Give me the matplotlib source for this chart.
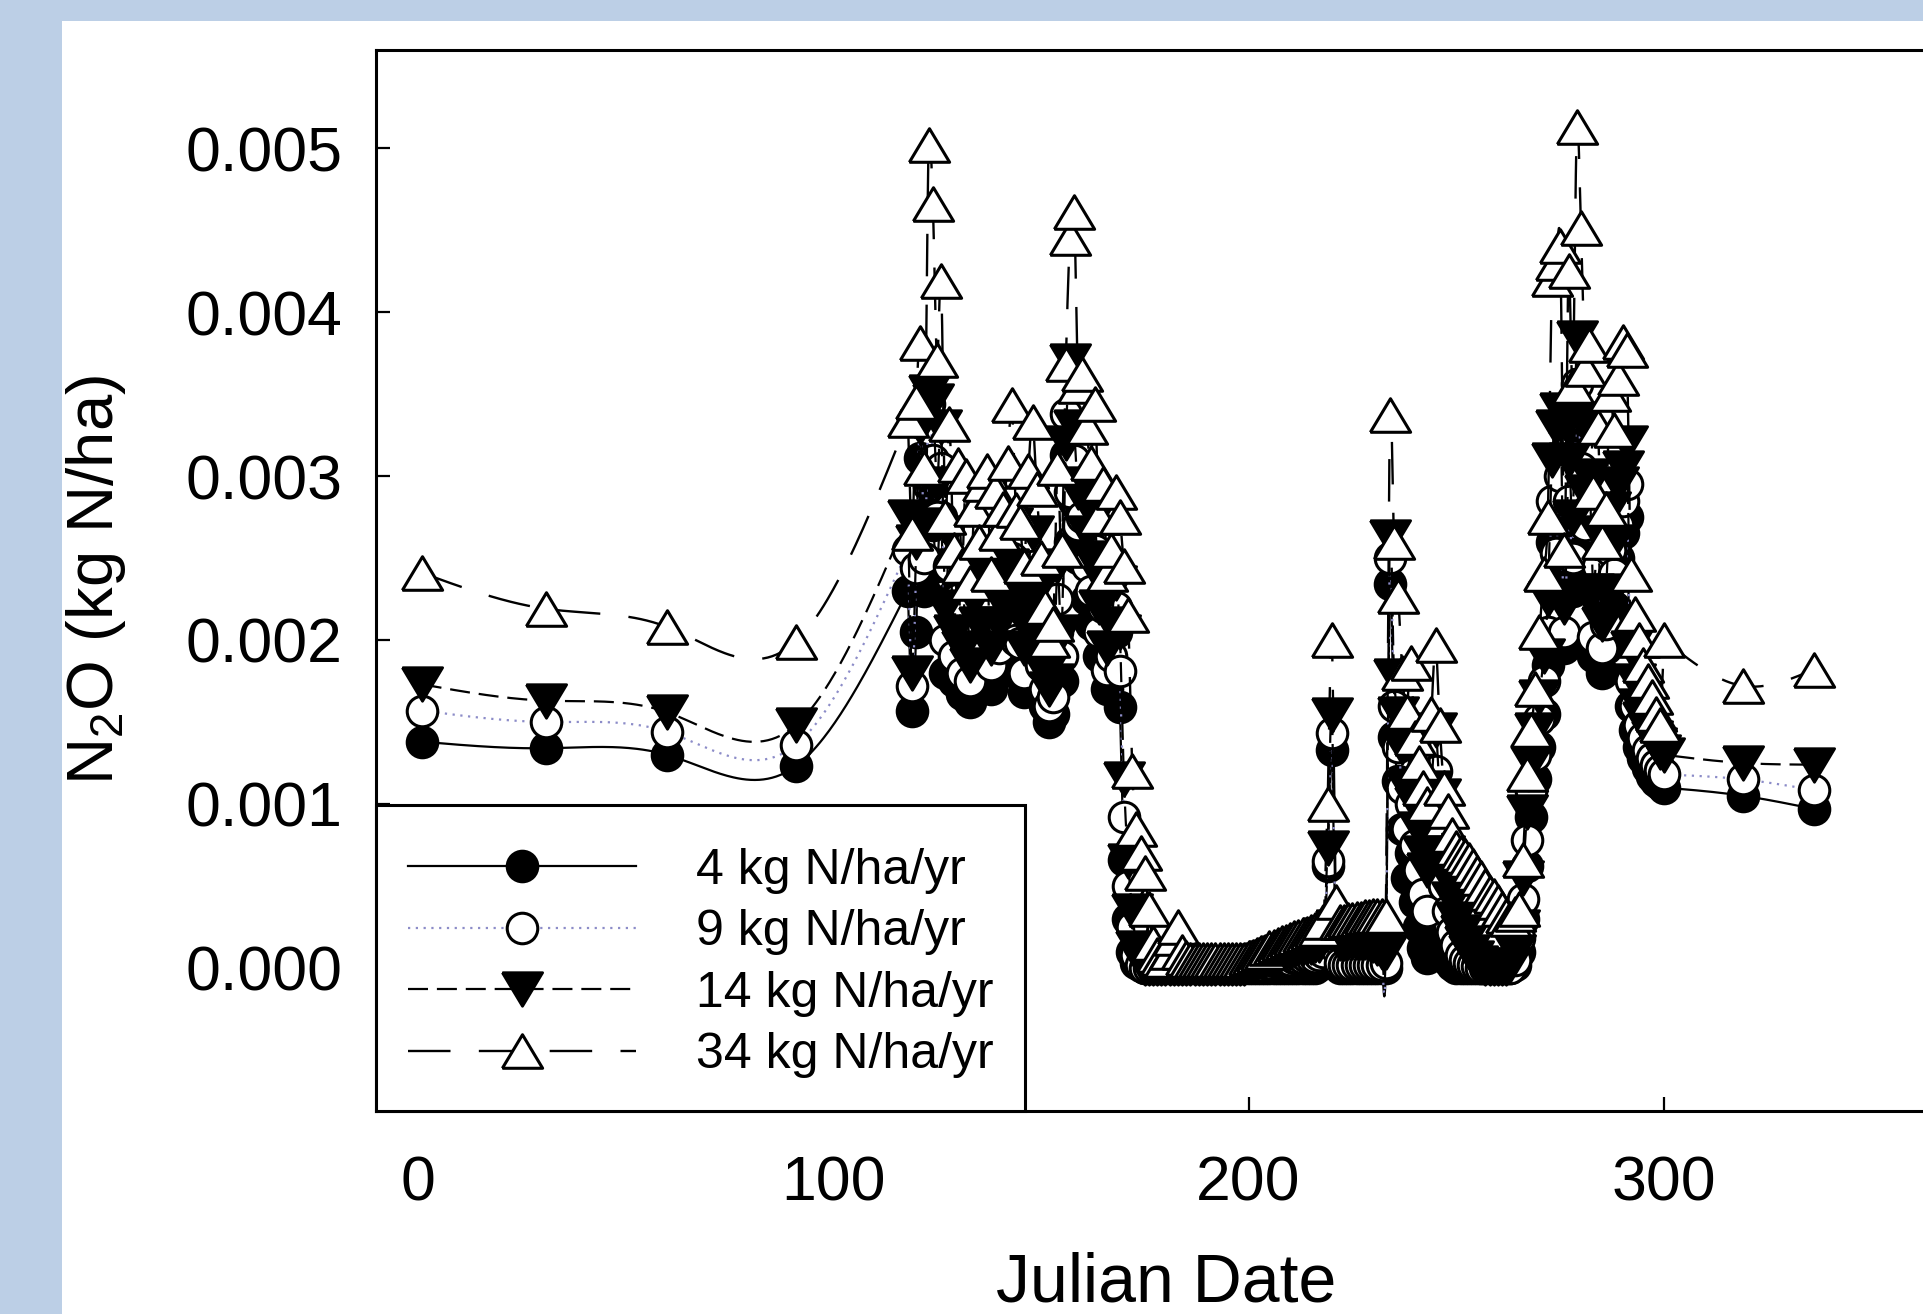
import numpy as np
import matplotlib
matplotlib.use("Agg")
import matplotlib.pyplot as plt
from matplotlib.lines import Line2D
from matplotlib.patches import Rectangle
from matplotlib.ticker import FuncFormatter

plt.rcParams['font.family'] = ['Liberation Sans', 'DejaVu Sans']
plt.rcParams['mathtext.default'] = 'regular'

# ---------------- data (N2O, units of 0.001 kg N/ha) ----------------
days = [1, 31, 60, 91] + list(range(118, 301)) + [319, 336]

n4 = [1.38, 1.34, 1.30, 1.23,
      2.30, 1.57, 2.05, 3.11, 2.30, 2.94, 2.70, 2.45, 2.75, 1.80,
      2.25, 1.75, 2.05, 1.67, 2.00, 1.62, 1.90, 1.80, 1.95, 2.05,
      1.70, 1.95, 1.80, 1.90, 2.05, 2.30, 1.85, 1.82, 1.68, 2.00,
      2.25, 1.95, 1.72, 1.60, 1.50, 1.55, 2.05, 1.75, 3.13, 2.60,
      2.85, 2.50, 2.55, 2.25, 2.10, 2.35, 1.90, 2.05, 1.70, 1.80,
      2.05, 1.59, 0.66, 0.30, 0.10, 0.03, 0.01, 0.00, 0.00, 0.00,
      0.00, 0.00, 0.00, 0.00, 0.00, 0.00, 0.00, 0.00, 0.00, 0.00,
      0.00, 0.00, 0.00, 0.00, 0.00, 0.00, 0.00, 0.00, 0.00, 0.00,
      0.00, 0.00, 0.00, 0.00, 0.00, 0.00, 0.00, 0.00, 0.00, 0.00,
      0.00, 0.00, 0.00, 0.00, 0.00, 0.00, 0.00, 0.00, 0.00, 0.02,
      0.05, 0.62, 1.33, 0.05, 0.00, 0.00, 0.00, 0.00, 0.00, 0.00,
      0.00, 0.00, 0.00, 0.00, 0.00, 0.00, 2.34, 1.41, 1.14, 0.85,
      0.55, 0.70, 0.40, 0.25, 0.12, 0.06, 0.45, 0.80, 0.40, 0.15,
      0.05, 0.02, 0.00, 0.00, 0.00, 0.00, 0.00, 0.00, 0.00, 0.00,
      0.00, 0.00, 0.00, 0.00, 0.00, 0.00, 0.02, 0.10, 0.30, 0.62,
      0.92, 1.15, 1.35, 1.55, 1.85, 2.60, 2.35, 2.80, 1.95, 2.65,
      2.30, 3.28, 2.80, 2.45, 2.55, 1.90, 2.25, 1.80, 1.95, 2.35,
      2.20, 2.50, 2.65, 2.75, 1.60, 1.45, 1.35, 1.28, 1.22, 1.17,
      1.14, 1.12, 1.10,
      1.05, 0.97]

n9 = [1.57, 1.50, 1.44, 1.36,
      2.55, 1.72, 2.44, 3.40, 2.50, 3.44, 3.10, 2.75, 3.05, 2.00,
      2.45, 1.90, 2.25, 1.80, 2.20, 1.75, 2.05, 1.95, 2.15, 2.25,
      1.85, 2.10, 1.95, 2.05, 2.25, 2.50, 2.00, 1.98, 1.80, 2.20,
      2.45, 2.10, 1.85, 1.70, 1.60, 1.65, 2.25, 1.90, 3.38, 2.90,
      3.10, 2.70, 2.75, 2.45, 2.30, 2.55, 2.05, 2.20, 1.82, 1.90,
      2.20, 1.81, 0.92, 0.50, 0.25, 0.08, 0.02, 0.00, 0.00, 0.00,
      0.00, 0.00, 0.00, 0.00, 0.00, 0.00, 0.00, 0.00, 0.00, 0.00,
      0.00, 0.00, 0.00, 0.00, 0.00, 0.00, 0.00, 0.00, 0.00, 0.00,
      0.00, 0.00, 0.01, 0.01, 0.02, 0.02, 0.03, 0.03, 0.04, 0.04,
      0.05, 0.05, 0.05, 0.06, 0.06, 0.06, 0.07, 0.07, 0.07, 0.08,
      0.10, 0.65, 1.43, 0.12, 0.03, 0.02, 0.02, 0.02, 0.02, 0.02,
      0.02, 0.02, 0.02, 0.02, 0.02, 0.03, 2.50, 1.60, 1.35, 1.10,
      0.85, 1.00, 0.75, 0.60, 0.45, 0.35, 0.90, 1.20, 0.80, 0.50,
      0.35, 0.22, 0.14, 0.08, 0.05, 0.03, 0.02, 0.01, 0.00, 0.00,
      0.00, 0.00, 0.00, 0.00, 0.00, 0.00, 0.05, 0.18, 0.42, 0.78,
      1.08, 1.30, 1.52, 1.75, 2.05, 2.85, 2.53, 3.00, 2.05, 2.85,
      2.50, 3.56, 3.05, 2.70, 2.80, 2.02, 2.45, 1.95, 2.10, 2.55,
      2.40, 2.70, 2.85, 2.95, 1.75, 1.60, 1.48, 1.40, 1.33, 1.28,
      1.24, 1.21, 1.18,
      1.15, 1.085]

n14 = [1.73, 1.63, 1.56, 1.48,
       2.75, 1.80, 2.60, 3.30, 2.70, 3.51, 3.46, 2.95, 3.30, 2.20,
       2.65, 2.05, 2.45, 1.95, 2.40, 1.85, 2.25, 2.10, 2.35, 2.45,
       1.95, 2.30, 2.10, 2.25, 2.45, 2.70, 2.20, 2.15, 1.95, 2.40,
       2.65, 2.30, 2.00, 1.80, 1.70, 1.75, 2.45, 2.05, 3.20, 3.70,
       3.30, 2.90, 2.95, 2.65, 2.50, 2.75, 2.20, 2.35, 1.95, 2.10,
       2.35, 2.05, 1.15, 0.65, 0.35, 0.12, 0.04, 0.00, 0.00, 0.00,
       0.00, 0.00, 0.00, 0.00, 0.00, 0.00, 0.00, 0.00, 0.00, 0.00,
       0.00, 0.00, 0.00, 0.00, 0.00, 0.00, 0.00, 0.00, 0.00, 0.00,
       0.00, 0.00, 0.01, 0.02, 0.03, 0.04, 0.05, 0.06, 0.07, 0.08,
       0.09, 0.10, 0.10, 0.11, 0.12, 0.12, 0.13, 0.13, 0.14, 0.14,
       0.20, 0.73, 1.54, 0.25, 0.15, 0.15, 0.16, 0.16, 0.16, 0.16,
       0.16, 0.15, 0.14, 0.12, 0.10, 0.10, 2.63, 1.78, 1.55, 1.35,
       1.10, 1.35, 1.00, 0.85, 0.70, 0.60, 1.10, 1.45, 1.05, 0.70,
       0.55, 0.42, 0.30, 0.22, 0.15, 0.10, 0.06, 0.03, 0.02, 0.00,
       0.00, 0.00, 0.00, 0.00, 0.00, 0.02, 0.10, 0.25, 0.55, 0.95,
       1.25, 1.45, 1.65, 1.90, 2.25, 3.10, 3.30, 3.40, 2.20, 3.10,
       2.75, 3.84, 3.35, 2.90, 3.00, 2.30, 2.65, 2.10, 2.30, 2.80,
       2.60, 2.95, 3.05, 3.20, 1.95, 1.75, 1.60, 1.52, 1.45, 1.40,
       1.36, 1.32, 1.30,
       1.25, 1.24]

n34 = [2.41, 2.19, 2.08, 1.99,
       3.34, 2.65, 3.45, 3.81, 3.05, 5.02, 4.66, 3.71, 4.19, 2.75,
       3.32, 2.55, 3.07, 2.45, 3.00, 2.35, 2.80, 2.60, 2.95, 3.03,
       2.40, 2.91, 2.65, 2.80, 3.08, 3.43, 2.79, 2.72, 2.45, 3.03,
       3.33, 2.92, 2.50, 2.20, 2.00, 2.10, 3.05, 2.55, 3.68, 4.45,
       4.61, 3.55, 3.62, 3.30, 3.08, 3.44, 2.75, 2.95, 2.40, 2.55,
       2.90, 2.75, 2.45, 2.15, 1.20, 0.85, 0.70, 0.58, 0.36, 0.15,
       0.08, 0.06, 0.05, 0.10, 0.18, 0.25, 0.10, 0.06, 0.05, 0.05,
       0.05, 0.05, 0.05, 0.05, 0.05, 0.05, 0.05, 0.05, 0.05, 0.05,
       0.05, 0.05, 0.06, 0.07, 0.08, 0.09, 0.10, 0.12, 0.13, 0.14,
       0.15, 0.16, 0.17, 0.18, 0.19, 0.20, 0.21, 0.22, 0.23, 0.24,
       0.28, 1.00, 2.00, 0.40, 0.28, 0.28, 0.29, 0.29, 0.30, 0.30,
       0.31, 0.31, 0.32, 0.32, 0.32, 0.32, 3.37, 2.60, 2.27, 1.80,
       1.56, 1.86, 1.40, 1.25, 1.10, 1.00, 1.55, 1.97, 1.48, 1.10,
       0.96, 0.81, 0.73, 0.70, 0.68, 0.66, 0.62, 0.58, 0.55, 0.50,
       0.46, 0.44, 0.40, 0.36, 0.32, 0.30, 0.33, 0.36, 0.66, 1.18,
       1.45, 1.70, 2.05, 2.40, 2.75, 4.20, 4.30, 4.40, 2.55, 4.25,
       3.55, 5.13, 4.51, 3.65, 3.80, 2.90, 3.30, 2.60, 2.80, 3.50,
       3.28, 3.60, 3.82, 3.77, 2.40, 2.16, 2.00, 1.85, 1.75, 1.65,
       1.55, 1.48, 2.00,
       1.72, 1.82]

labels = ['4 kg N/ha/yr', '9 kg N/ha/yr', '14 kg N/ha/yr', '34 kg N/ha/yr']
xticks = [0, 100, 200, 300]
yticks = [0.000, 0.001, 0.002, 0.003, 0.004, 0.005]


# ---------------- curve helpers (SigmaPlot-like spline drawing) ----------------
def natural_spline(xk, yk, n=60):
    xk = np.asarray(xk, float); yk = np.asarray(yk, float)
    nk = len(xk); h = np.diff(xk)
    A = np.zeros((nk, nk)); r = np.zeros(nk)
    A[0, 0] = A[-1, -1] = 1.0
    for i in range(1, nk - 1):
        A[i, i - 1] = h[i - 1]; A[i, i] = 2 * (h[i - 1] + h[i]); A[i, i + 1] = h[i]
        r[i] = 3 * ((yk[i + 1] - yk[i]) / h[i] - (yk[i] - yk[i - 1]) / h[i - 1])
    c = np.linalg.solve(A, r)
    b = (yk[1:] - yk[:-1]) / h - h * (2 * c[:-1] + c[1:]) / 3
    d = (c[1:] - c[:-1]) / (3 * h)
    xs, ys = [], []
    for i in range(nk - 1):
        t = np.linspace(0, h[i], n, endpoint=False)
        xs.append(xk[i] + t); ys.append(yk[i] + b[i] * t + c[i] * t ** 2 + d[i] * t ** 3)
    xs.append([xk[-1]]); ys.append([yk[-1]])
    return np.concatenate(xs), np.concatenate(ys)


def catmull(xk, yk, n=12):
    xk = np.asarray(xk, float); yk = np.asarray(yk, float)
    m = np.empty_like(yk)
    m[1:-1] = (yk[2:] - yk[:-2]) / (xk[2:] - xk[:-2])
    m[0] = (yk[1] - yk[0]) / (xk[1] - xk[0])
    m[-1] = (yk[-1] - yk[-2]) / (xk[-1] - xk[-2])
    xs, ys = [], []
    t = np.linspace(0, 1, n, endpoint=False)
    h00 = 2 * t ** 3 - 3 * t ** 2 + 1; h10 = t ** 3 - 2 * t ** 2 + t
    h01 = -2 * t ** 3 + 3 * t ** 2; h11 = t ** 3 - t ** 2
    for i in range(len(xk) - 1):
        h = xk[i + 1] - xk[i]
        xs.append(xk[i] + t * h)
        ys.append(h00 * yk[i] + h10 * h * m[i] + h01 * yk[i + 1] + h11 * h * m[i + 1])
    xs.append([xk[-1]]); ys.append([yk[-1]])
    return np.concatenate(xs), np.concatenate(ys)


def curve(x, y):
    x = np.asarray(x, float); y = np.asarray(y, float)
    i118 = list(x).index(118); i300 = list(x).index(300)
    ex, ey = natural_spline(x[:i118 + 1], y[:i118 + 1])
    dx, dy = catmull(x[i118:i300 + 1], y[i118:i300 + 1])
    lx, ly = natural_spline(x[i300:], y[i300:])
    return np.concatenate([ex, dx, lx]), np.concatenate([ey, dy, ly])


# ---------------- figure ----------------
W, H = 1924, 1314
fig = plt.figure(figsize=(W / 100, H / 100), dpi=100, facecolor='#bccfe6')
fig.patches.append(Rectangle((62 / W, 0), 1, (H - 21) / H, transform=fig.transFigure,
                             facecolor='white', edgecolor='none', zorder=-5))

ax = fig.add_axes([376 / W, (H - 1111) / H, (1955 - 376) / W, (1111 - 50) / H])
ax.set_facecolor('white')
ax.set_zorder(1)

up_tri = [(-1.2, -1.0), (1.2, -1.0), (0.0, 1.0), (-1.2, -1.0)]
dn_tri = [(-1.2, 1.0), (1.2, 1.0), (0.0, -1.0), (-1.2, 1.0)]

styles = [
    dict(color='black', ls='-', lw=1.6, marker='o', ms=22, mfc='black', mec='black', mew=2.2),
    dict(color='#8c8cc8', ls=(0, (1, 2.5)), lw=1.6, marker='o', ms=22, mfc='white', mec='black', mew=2.2),
    dict(color='black', ls=(0, (9, 4)), lw=1.6, marker=dn_tri, ms=29, mfc='black', mec='black', mew=2.0),
    dict(color='black', ls=(0, (18, 12)), lw=1.7, marker=up_tri, ms=29, mfc='white', mec='black', mew=2.2),
]

series = [n4, n9, n14, n34]
for k, (vals, st) in enumerate(zip(series, styles)):
    yv = np.asarray(vals) * 1e-3
    cx, cy = curve(days, yv)
    ax.plot(cx, cy, color=st['color'], ls=st['ls'], lw=st['lw'], zorder=3 + 2 * k)
    ax.plot(days, yv, ls='none', marker=st['marker'], ms=st['ms'], mfc=st['mfc'],
            mec=st['mec'], mew=st['mew'], zorder=4 + 2 * k)

ax.set_xlim(-10, 370)
ax.set_ylim(-0.000872, 0.0055976)
ax.set_xticks(xticks)
ax.set_yticks(yticks)
ax.yaxis.set_major_formatter(FuncFormatter(lambda v, p: '%.3f' % v))
ax.tick_params(axis='both', direction='in', length=10, width=1.6, labelsize=45)
ax.tick_params(axis='x', pad=31)
ax.tick_params(axis='y', pad=24)
for s in ['left', 'bottom', 'top']:
    ax.spines[s].set_linewidth(2.2)
ax.spines['right'].set_visible(False)

fig.text(96 / W, 1 - 580 / H, 'N$_2$O (kg N/ha)', rotation=90, ha='center', va='center', fontsize=47)
fig.text(1166 / W, 1 - 1284 / H, 'Julian Date', ha='center', va='center', fontsize=49)

# legend box
lw_ax = (1025 - 376) / (1955 - 376)
lh_ax = (1111 - 805) / (1111 - 50)
ax.add_patch(Rectangle((0, 0), lw_ax, lh_ax, transform=ax.transAxes, facecolor='white',
                       edgecolor='black', lw=2.2, zorder=30, clip_on=False))
handles = [Line2D([], [], color=st['color'], ls=st['ls'], lw=st['lw'], marker=st['marker'],
                  ms=st['ms'], mfc=st['mfc'], mec=st['mec'], mew=st['mew']) for st in styles]
leg = ax.legend(handles, labels, loc='center left',
                bbox_to_anchor=((408 - 376) / (1955 - 376), (1111 - 963) / (1111 - 50)),
                frameon=False, fontsize=36, handlelength=4.56, handletextpad=1.2,
                labelspacing=0.31, borderpad=0, borderaxespad=0, numpoints=1)
leg.set_zorder(31)

fig.savefig('out.png', dpi=100, facecolor=fig.get_facecolor())
